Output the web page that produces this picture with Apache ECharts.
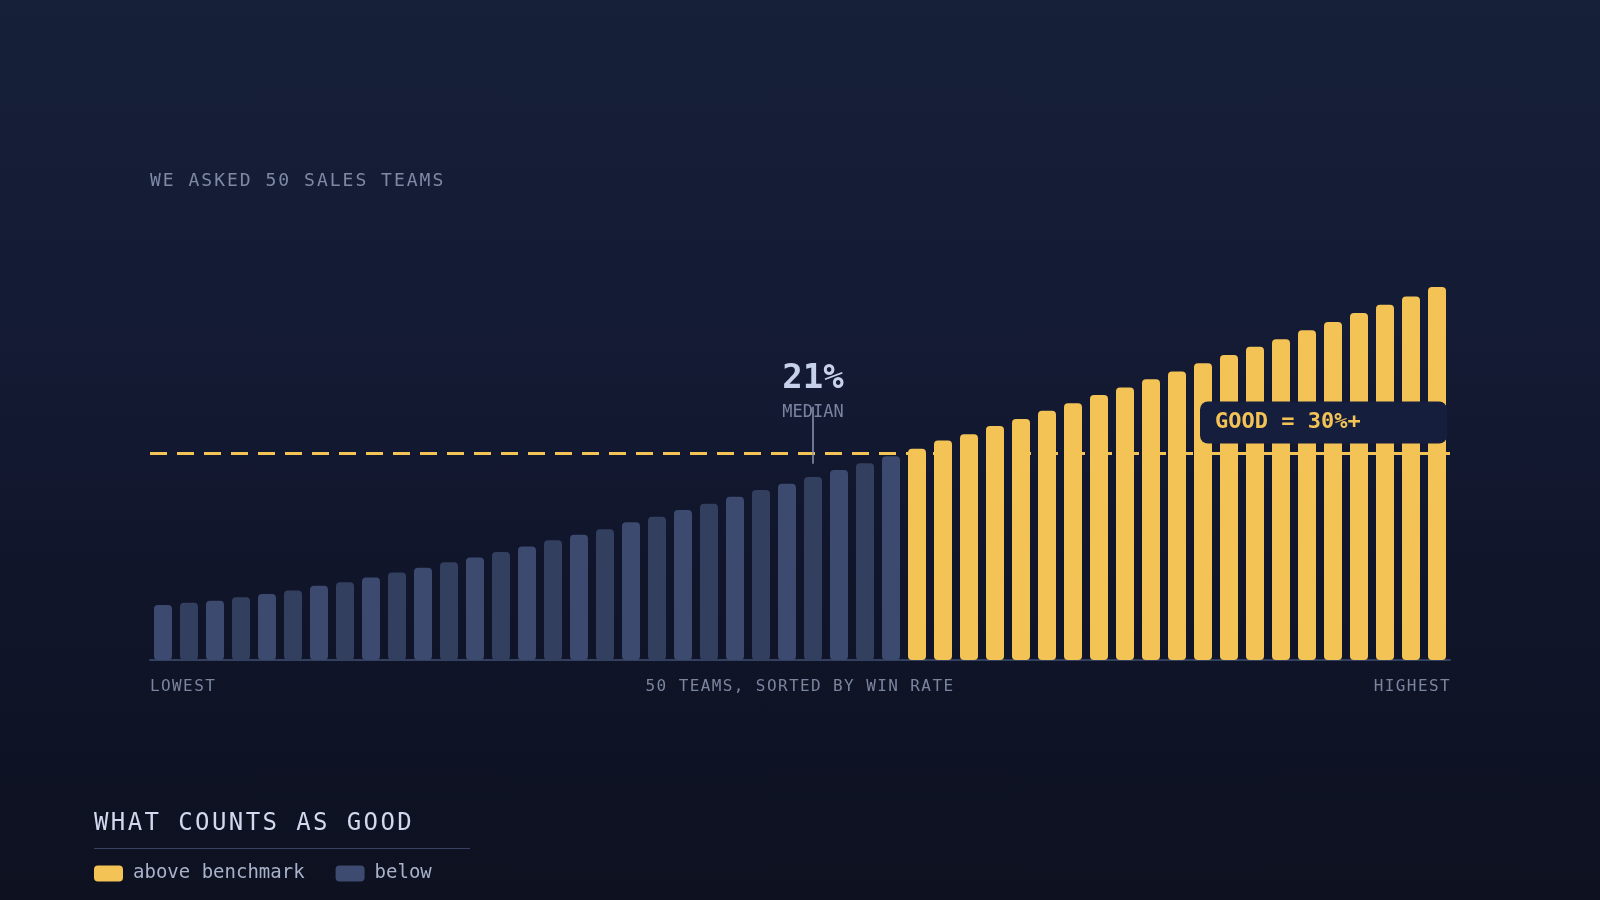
<!DOCTYPE html>
<html>
<head>
<meta charset="utf-8">
<script src="https://cdn.jsdelivr.net/npm/echarts@6/dist/echarts.min.js"></script>
<style>
  html, body { margin: 0; padding: 0; }
  body {
    width: 1600px; height: 900px; overflow: hidden; position: relative;
    background: linear-gradient(180deg, #172039 0%, #141b34 35%, #10152a 65%, #0d1120 100%);
    font-family: "DejaVu Sans Mono", monospace;
  }
  #chart { position: absolute; left: 0; top: 0; width: 1600px; height: 900px; }
  .txt { position: absolute; white-space: nowrap; line-height: 1; }
  #kicker { left: 150px; top: 171px; font-size: 18px; letter-spacing: 2px; color: #7f89a6; }
  .cap { top: 678px; font-size: 16px; letter-spacing: 1.4px; color: #7b859f; }
  #low { left: 150px; }
  #mid { left: 0; width: 1600px; text-align: center; }
  #high { right: 149px; }
  #legendTitle { left: 94px; top: 810px; font-size: 24px; letter-spacing: 2.4px; color: #d2d9ee; }
  #rule { position: absolute; left: 94px; top: 848px; width: 376px; height: 1px; background: #384363; }
</style>
</head>
<body>
<div id="chart"></div>
<div class="txt" id="kicker">WE ASKED 50 SALES TEAMS</div>
<div class="txt cap" id="low">LOWEST</div>
<div class="txt cap" id="mid">50 TEAMS, SORTED BY WIN RATE</div>
<div class="txt cap" id="high">HIGHEST</div>
<div class="txt" id="legendTitle">WHAT COUNTS AS GOOD</div>
<div id="rule"></div>
<script>
// teams ranked lowest -> highest
const teams = ['1','2','3','4','5','6','7','8','9','10',
  '11','12','13','14','15','16','17','18','19','20',
  '21','22','23','24','25','26','27','28','29','30',
  '31','32','33','34','35','36','37','38','39','40',
  '41','42','43','44','45','46','47','48','49','50'];

// win rate per team (%)
const winRate = [8.0, 8.3, 8.6, 9.1, 9.6, 10.1, 10.8, 11.3, 12.0, 12.7,
  13.4, 14.2, 14.9, 15.7, 16.5, 17.4, 18.2, 19.0, 20.0, 20.8,
  21.8, 22.7, 23.7, 24.7, 25.6, 26.6, 27.6, 28.6, 29.6, 30.7,
  31.9, 32.8, 34.0, 35.0, 36.2, 37.3, 38.5, 39.6, 40.8, 41.9,
  43.1, 44.3, 45.5, 46.6, 47.9, 49.1, 50.4, 51.6, 52.8, 54.2];

const benchmark = 30;
const medianText = '21%';
const medianIndex = 25;

const gold = '#f4c356';
const blueLight = '#3b4a6e';
const blueDark = '#333f5f';

const belowData = winRate.map(v => v < benchmark ? v : '-');
const aboveData = winRate.map(v => v >= benchmark ? v : '-');

const mono = '"DejaVu Sans Mono", monospace';

const chart = echarts.init(document.getElementById('chart'));
chart.setOption({
  animation: false,
  backgroundColor: 'transparent',
  grid: { left: 150, right: 150, top: 247, bottom: 240 },
  legend: {
    left: 89, top: 859,
    icon: 'roundRect',
    itemWidth: 29, itemHeight: 16, itemGap: 31,
    selectedMode: false,
    textStyle: { color: '#a9b2cb', fontSize: 19, fontFamily: mono, padding: [0, 0, 0, 5] },
    data: [
      { name: 'above benchmark', itemStyle: { color: gold } },
      { name: 'below', itemStyle: { color: '#3e4b70' } }
    ]
  },
  xAxis: {
    type: 'category',
    data: teams,
    axisLine: { show: true, lineStyle: { color: '#33405f', width: 2 } },
    axisTick: { show: false },
    axisLabel: { show: false }
  },
  yAxis: {
    type: 'value', min: 0, max: 60,
    show: false,
    splitLine: { show: false }
  },
  series: [
    {
      // benchmark dashes, behind the bars
      type: 'line', data: [], z: 1, silent: true,
      markLine: {
        symbol: 'none', silent: true,
        label: { show: false },
        lineStyle: { color: gold, width: 3, type: [17, 10] },
        data: [{ yAxis: benchmark }]
      }
    },
    {
      name: 'below', type: 'bar', data: belowData, z: 2,
      barWidth: 18, barGap: '-100%',
      itemStyle: {
        color: p => (p.dataIndex % 2 ? blueDark : blueLight),
        borderRadius: 4
      }
    },
    {
      name: 'above benchmark', type: 'bar', data: aboveData, z: 2,
      barWidth: 18, barGap: '-100%',
      itemStyle: { color: gold, borderRadius: 4 }
    },
    {
      // benchmark tag + median text, over the bars
      type: 'line', data: [], z: 3, silent: true,
      markLine: {
        symbol: 'none', silent: true,
        lineStyle: { color: 'rgba(0,0,0,0)', width: 0 },
        label: {
          show: true,
          position: 'insideEndTop',
          distance: [3, 10],
          formatter: '{g|GOOD = 30%+}',
          backgroundColor: '#151e3c',
          borderRadius: 8,
          padding: [10, 15, 10, 15],
          rich: {
            g: {
              width: 217, align: 'left', lineHeight: 22,
              color: gold, fontSize: 22, fontWeight: 'bold', fontFamily: mono
            }
          }
        },
        data: [{ yAxis: benchmark }]
      },
      markPoint: {
        symbol: 'circle', symbolSize: 1,
        itemStyle: { color: 'rgba(0,0,0,0)' },
        label: { show: true, position: 'inside', fontFamily: mono },
        data: [
          {
            coord: [teams[medianIndex], 40.75],
            label: { formatter: medianText, color: '#c7d1ea', fontSize: 34, fontWeight: 'bold' }
          },
          {
            coord: [teams[medianIndex], 35.9],
            label: { formatter: 'MEDIAN', color: '#7a84a0', fontSize: 17 }
          }
        ]
      }
    },
    {
      // median tick
      type: 'line', data: [], z: 4, silent: true,
      markLine: {
        symbol: 'none', silent: true,
        label: { show: false },
        lineStyle: { color: '#8c96b2', width: 1.5, type: 'solid' },
        data: [[
          { coord: [teams[medianIndex], 28.5] },
          { coord: [teams[medianIndex], 36.8] }
        ]]
      }
    }
  ]
});
</script>
</body>
</html>
